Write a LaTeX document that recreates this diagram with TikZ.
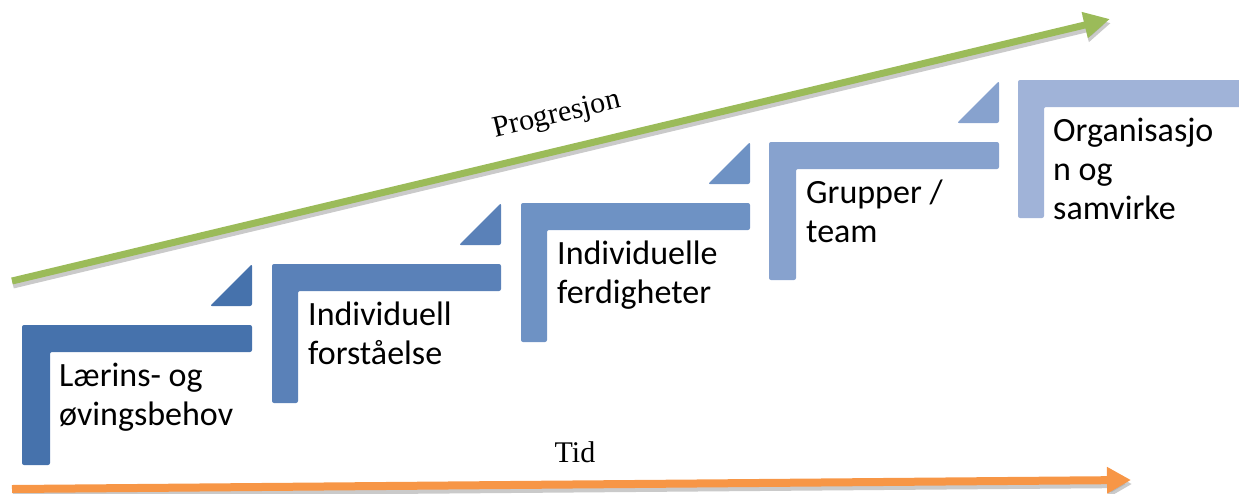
\documentclass[tikz,border=0pt]{standalone}
\usepackage{fontspec}
\setmainfont{Liberation Serif}
\newfontfamily\stepfont{Carlito}
\usetikzlibrary{arrows.meta}

\definecolor{stepA}{HTML}{4672AC}
\definecolor{stepB}{HTML}{5A81B8}
\definecolor{stepC}{HTML}{6E92C4}
\definecolor{stepD}{HTML}{87A2CE}
\definecolor{stepE}{HTML}{A0B3D8}
\definecolor{progGreen}{HTML}{9BBB59}
\definecolor{timeOrange}{HTML}{F79646}

\tikzset{
  stepshape/.style={rounded corners=2pt, draw=none},
  steptext/.style={anchor=north west, align=left, inner sep=0pt,
    font=\stepfont\fontsize{34}{39}\selectfont},
  axistext/.style={inner sep=0pt, font=\fontsize{30}{34}\selectfont},
  shadowline/.style={line width=7pt, draw=black!35, opacity=0.6},
}

\begin{document}
\begin{tikzpicture}[x=1pt, y=-1pt]
\useasboundingbox (0,0) rectangle (1239,493);

% progression arrow
\coordinate (progStart) at (12,281);
\coordinate (progEnd) at (1110,19);
\draw[shadowline, -{Triangle[length=26pt,width=25pt]}] ([shift={(1,4)}]progStart) -- ([shift={(1,4)}]progEnd);
\draw[line width=7pt, progGreen, -{Triangle[length=26pt,width=25pt]}] (progStart) -- (progEnd);
\node[axistext, rotate=13.4] (progLabel) at (557,116) {Progresjon};

% time arrow
\coordinate (timeStart) at (12,489);
\coordinate (timeEnd) at (1131,480);
\draw[shadowline, line width=8pt, -{Triangle[length=24pt,width=25pt]}] ([shift={(1,4)}]timeStart) -- ([shift={(1,4)}]timeEnd);
\draw[line width=8pt, timeOrange, -{Triangle[length=24pt,width=25pt]}] (timeStart) -- (timeEnd);
\node[axistext] (timeLabel) at (575,452) {Tid};

% step 1
\fill[stepA, stepshape] (22,325) -- (252,325) -- (252,352) -- (50,352) -- (50,465) -- (22,465) -- cycle;
\fill[stepA, stepshape] (210,306) -- (252,264) -- (252,306) -- cycle;
\node[steptext] (needs) at (59,363) {Lærins- og\\øvingsbehov};

% step 2
\fill[stepB, stepshape] (272,264) -- (501,264) -- (501,291) -- (298,291) -- (298,403) -- (272,403) -- cycle;
\fill[stepB, stepshape] (459,245) -- (501,203) -- (501,245) -- cycle;
\node[steptext] (understanding) at (308,302) {Individuell\\forståelse};

% step 3
\fill[stepC, stepshape] (521,203) -- (750,203) -- (750,230) -- (547,230) -- (547,342) -- (521,342) -- cycle;
\fill[stepC, stepshape] (708,184) -- (750,142) -- (750,184) -- cycle;
\node[steptext] (skills) at (557,241) {Individuelle\\ferdigheter};

% step 4
\fill[stepD, stepshape] (769,142) -- (999,142) -- (999,169) -- (796,169) -- (796,280) -- (769,280) -- cycle;
\fill[stepD, stepshape] (957,123) -- (999,81) -- (999,123) -- cycle;
\node[steptext] (groups) at (806,180) {Grupper /\\team};

% step 5
\fill[stepE, stepshape] (1018,80) -- (1241,80) -- (1241,107) -- (1044,107) -- (1044,218) -- (1018,218) -- cycle;
\node[steptext] (organisation) at (1053,118) {Organisasjo\\n og\\samvirke};

\end{tikzpicture}
\end{document}
